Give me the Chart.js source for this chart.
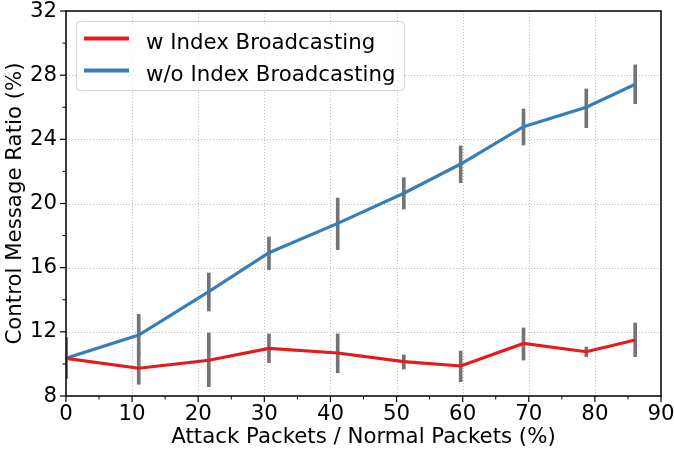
<!DOCTYPE html>
<html>
<head>
<meta charset="utf-8">
<script src="https://cdn.jsdelivr.net/npm/chart.js@4.4.0/dist/chart.umd.min.js"></script>
<style>
html,body{margin:0;padding:0;background:#fff;}
#wrap{width:674px;height:453px;position:relative;}
</style>
</head>
<body>
<div id="wrap"><canvas id="c" width="674" height="453"></canvas></div>
<script>
const xValues = [0, 11.0, 21.6, 30.7, 41.1, 51.1, 59.7, 69.2, 78.7, 86.1];
const redLabel = 'w Index Broadcasting';
const redValues = [10.35, 9.73, 10.23, 10.97, 10.68, 10.14, 9.87, 11.28, 10.76, 11.49];
const redLow  = [9.1, 8.73, 8.58, 10.08, 9.45, 9.68, 8.89, 10.24, 10.45, 10.45];
const redHigh = [11.66, 10.7, 11.93, 11.87, 11.87, 10.56, 10.8, 12.24, 11.05, 12.55];
const blueLabel = 'w/o Index Broadcasting';
const blueValues = [10.35, 11.8, 14.5, 16.93, 18.76, 20.64, 22.46, 24.79, 26.0, 27.43];
const blueLow  = [9.1, 10.6, 13.3, 15.87, 17.12, 19.66, 21.3, 23.65, 24.73, 26.22];
const blueHigh = [11.66, 13.09, 15.67, 17.91, 20.34, 21.61, 23.59, 25.89, 27.14, 28.64];
const xTicks = [0, 10, 20, 30, 40, 50, 60, 70, 80, 90];
const yTicks = [8, 12, 16, 20, 24, 28, 32];
const xTitle = 'Attack Packets / Normal Packets (%)';
const yTitle = 'Control Message Ratio (%)';

const RED = '#e41a1c', BLUE = '#377eb8', ERR = '#747474';
const FONT = "'DejaVu Sans', sans-serif";
const FS = 21.3;

const pts = (vals) => xValues.map((x, i) => ({x: x, y: vals[i]}));
const errs = (lo, hi) => xValues.map((x, i) => ({x: x, y: [lo[i], hi[i]]}));

const gridPlugin = {
  id: 'gridPlugin',
  beforeDatasetsDraw(chart) {
    const {ctx, chartArea: a, scales: {x, y}} = chart;
    ctx.save();
    ctx.strokeStyle = '#bdbdbd';
    ctx.lineWidth = 1;
    ctx.setLineDash([1, 2]);
    xTicks.forEach(v => {
      const px = Math.round(x.getPixelForValue(v)) + 0.5;
      ctx.beginPath(); ctx.moveTo(px, a.top); ctx.lineTo(px, a.bottom); ctx.stroke();
    });
    yTicks.forEach(v => {
      const py = Math.round(y.getPixelForValue(v)) + 0.5;
      ctx.beginPath(); ctx.moveTo(a.left, py); ctx.lineTo(a.right, py); ctx.stroke();
    });
    ctx.restore();
  },
  afterDraw(chart) {
    const {ctx, chartArea: a, scales: {x, y}} = chart;
    ctx.save();
    ctx.strokeStyle = '#000';
    ctx.lineWidth = 1.5;
    ctx.strokeRect(a.left, a.top, a.right - a.left, a.bottom - a.top);
    ctx.lineWidth = 1.2;
    xTicks.forEach(v => {
      const px = x.getPixelForValue(v);
      ctx.beginPath(); ctx.moveTo(px, a.bottom); ctx.lineTo(px, a.bottom + 6); ctx.stroke();
    });
    yTicks.forEach(v => {
      const py = y.getPixelForValue(v);
      ctx.beginPath(); ctx.moveTo(a.left, py); ctx.lineTo(a.left - 6, py); ctx.stroke();
    });
    ctx.lineWidth = 1;
    for (let v = x.min + 5; v < x.max; v += 10) {
      const px = x.getPixelForValue(v);
      ctx.beginPath(); ctx.moveTo(px, a.bottom); ctx.lineTo(px, a.bottom + 3.5); ctx.stroke();
    }
    for (let v = y.min + 2; v < y.max; v += 4) {
      const py = y.getPixelForValue(v);
      ctx.beginPath(); ctx.moveTo(a.left, py); ctx.lineTo(a.left - 3.5, py); ctx.stroke();
    }
    // legend
    const lx = 76.5, ly = 21.5, lw = 328, lh = 69, r = 4;
    ctx.beginPath();
    ctx.moveTo(lx + r, ly);
    ctx.arcTo(lx + lw, ly, lx + lw, ly + lh, r);
    ctx.arcTo(lx + lw, ly + lh, lx, ly + lh, r);
    ctx.arcTo(lx, ly + lh, lx, ly, r);
    ctx.arcTo(lx, ly, lx + lw, ly, r);
    ctx.closePath();
    ctx.fillStyle = 'rgba(255,255,255,0.8)';
    ctx.fill();
    ctx.strokeStyle = '#d6d6d6';
    ctx.lineWidth = 1;
    ctx.stroke();
    const items = chart.data.datasets.filter(d => d.type === 'line');
    ctx.font = FS + 'px ' + FONT;
    ctx.textBaseline = 'alphabetic';
    ctx.textAlign = 'left';
    items.forEach((d, i) => {
      const cy = 38.5 + i * 32;
      ctx.strokeStyle = d.borderColor;
      ctx.lineWidth = 4;
      ctx.beginPath(); ctx.moveTo(84, cy); ctx.lineTo(129, cy); ctx.stroke();
      ctx.fillStyle = '#000';
      ctx.fillText(d.label, 146, cy + 10);
    });
    ctx.restore();
  }
};

new Chart(document.getElementById('c'), {
  type: 'line',
  data: {
    datasets: [
      {type: 'line', label: redLabel, data: pts(redValues), borderColor: RED, backgroundColor: RED,
       borderWidth: 3.2, pointRadius: 0, tension: 0, order: 1},
      {type: 'line', label: blueLabel, data: pts(blueValues), borderColor: BLUE, backgroundColor: BLUE,
       borderWidth: 3.2, pointRadius: 0, tension: 0, order: 1},
      {type: 'bar', label: 'err-red', data: errs(redLow, redHigh), backgroundColor: ERR,
       barThickness: 3, grouped: false, borderWidth: 0, borderSkipped: false, order: 2},
      {type: 'bar', label: 'err-blue', data: errs(blueLow, blueHigh), backgroundColor: ERR,
       barThickness: 3, grouped: false, borderWidth: 0, borderSkipped: false, order: 2}
    ]
  },
  options: {
    responsive: false,
    animation: false,
    devicePixelRatio: 1,
    layout: {padding: {top: 11, right: 13, left: 0, bottom: 0}},
    plugins: {legend: {display: false}, tooltip: {enabled: false}},
    scales: {
      x: {
        type: 'linear', min: 0, max: 90, offset: false,
        afterBuildTicks: s => { s.ticks = xTicks.map(v => ({value: v})); },
        afterFit: s => { s.height = 57; s.paddingRight = 0; s.paddingLeft = 0; },
        grid: {display: false, drawTicks: false},
        border: {display: false},
        ticks: {padding: 6, color: '#000', font: {family: FONT, size: FS}, maxRotation: 0, autoSkip: false},
        title: {display: true, text: xTitle, color: '#000', font: {family: FONT, size: FS}, padding: {top: 0, bottom: 3}}
      },
      y: {
        type: 'linear', min: 8, max: 32,
        afterBuildTicks: s => { s.ticks = yTicks.map(v => ({value: v})); },
        afterFit: s => { s.width = 66; s.paddingTop = 0; s.paddingBottom = 0; },
        grid: {display: false, drawTicks: false},
        border: {display: false},
        ticks: {padding: 9, color: '#000', font: {family: FONT, size: FS}, autoSkip: false},
        title: {display: true, text: yTitle, color: '#000', font: {family: FONT, size: FS}, padding: {top: 3, bottom: 0}}
      }
    }
  },
  plugins: [gridPlugin]
});
</script>
</body>
</html>
